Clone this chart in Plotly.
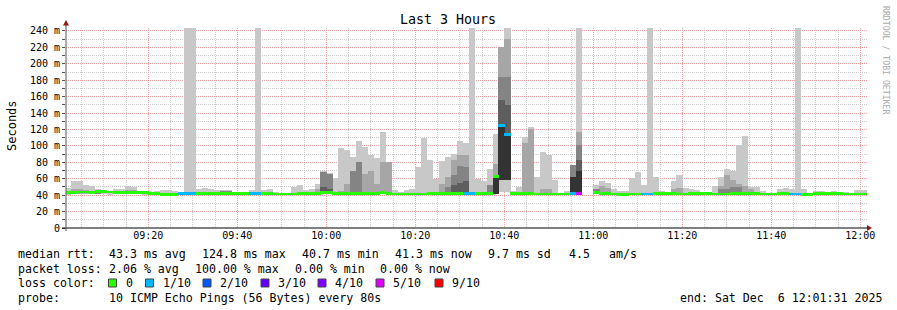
import plotly.graph_objects as go
import pandas as pd

# ---------------- data ----------------
T_START = pd.Timestamp("2025-12-06 09:01:23")   # start of first 80 s step
STEP_S = 80
X_RANGE = ["2025-12-06 09:01:31", "2025-12-06 12:01:31"]
X_TICKS = ["09:20", "09:40", "10:00", "10:20", "10:40", "11:00", "11:20", "11:40", "12:00"]
Y_TICKS = [0, 20, 40, 60, 80, 100, 120, 140, 160, 180, 200, 220, 240]
Y_TICK_LABELS = ["0", "20 m", "40 m", "60 m", "80 m", "100 m", "120 m", "140 m",
                 "160 m", "180 m", "200 m", "220 m", "240 m"]

# largest ping (ms) per step (None = no answer)
max_ms = [49, 57, 57, 52, 51, 47, 45, 45, 47, 47, 51, 50, 45, 45, 44, 45, 46, 46, 45, 44,
          245, 245, 48, 49, 47, 46, 46, 46, 43, 43, 44, 46, 245, 46, 48, 44, 43, 43, 50, 52,
          46, 48, 54, 70, 67, 61, 97, 95, 87, 106, 99, 89, 85, 117, 80, 46, 44, 46, 48, 74,
          110, 83, 60, 82, 86, 90, 106, 103, 245, 60, 57, 72, 115, 221, 245, 45, 50, 111, 123, 62,
          93, 89, 58, 43, 45, 77, 245, None, None, 52, 57, 55, 48, 45, 45, 61, 68, 52, 245, 62,
          45, 44, 57, 65, 49, 47, 46, 43, 43, 51, 62, 72, 70, 101, 112, 50, 50, 45, 43, 43,
          47, 49, 48, 245, 48, 43, 45, 45, 44, 45, 44, 44, 43, 46, 46]

# smallest ping (ms) per step
min_ms = [39.8, 41.5, 41.5, 41.8, 41.5, 41.0, 41.5, 40.5, 41.0, 41.5, 41.5, 41.5, 41.0, 40.5, 41.0,
          40.5, 39.8, 39.8, 40.2, 40.8, 40.8, 40.8, 40.8, 40.8, 40.8, 40.8, 40.8, 40.8, 40.5, 40.5,
          40.5, 40.8, 40.8, 40.5, 40.5, 40.5, 40.5, 40.5, 40.5, 40.5, 40.5, 40.5, 41.0, 41.5, 41.5,
          40.8, 41.0, 41.0, 41.0, 41.0, 40.8, 40.8, 41.0, 41.0, 41.0, 40.5, 40.5, 40.5, 40.5, 40.5,
          40.5, 40.5, 40.8, 40.8, 41.0, 41.0, 40.8, 40.8, 40.8, 40.8, 40.8, 41.0, 41.0, 44.0, 44.0,
          41.0, 41.0, 41.0, 41.0, 40.5, 40.5, 40.5, 40.5, 40.5, 40.5, 40.8, 41.0, None, None, 41.5,
          41.0, 40.8, 40.5, 40.2, 40.2, 40.5, 40.5, 40.5, 40.5, 40.8, 40.8, 40.8, 40.8, 40.5, 40.5,
          40.8, 40.8, 41.0, 41.0, 40.5, 40.5, 40.5, 40.8, 40.8, 40.8, 40.8, 40.8, 40.5, 40.5, 40.5,
          40.8, 40.8, 40.5, 40.5, 40.2, 40.2, 40.8, 41.0, 41.0, 41.0, 40.8, 40.5, 40.5, 40.3, 40.3]

# median rtt (ms) per step
med_ms = [42.8, 43.5, 43.8, 43.8, 43.5, 44.0, 44.0, 43.8, 43.5, 43.5, 43.6, 43.2, 43.0, 42.8, 42.0,
          41.6, 40.8, 40.7, 41.2, 41.8, 41.8, 41.8, 41.8, 41.8, 41.8, 41.9, 41.9, 41.9, 41.8, 41.6,
          41.6, 41.8, 41.8, 41.6, 41.6, 41.5, 41.5, 41.5, 41.5, 41.6, 41.6, 41.6, 42.5, 43.0, 43.0,
          41.8, 42.0, 42.5, 42.5, 42.5, 41.8, 41.8, 42.5, 42.8, 42.0, 41.5, 41.5, 41.5, 41.5, 41.5,
          41.5, 41.6, 41.8, 42.0, 42.5, 42.5, 41.8, 41.8, 41.8, 41.8, 41.8, 42.5, 62.5, 125.0, 114.0,
          42.0, 42.0, 42.0, 42.0, 41.5, 41.5, 41.5, 41.5, 41.5, 41.5, 41.8, 42.0, None, None, 43.5,
          42.5, 41.8, 41.5, 41.2, 41.2, 41.5, 41.5, 41.5, 41.5, 41.8, 41.8, 41.8, 41.8, 41.5, 41.5,
          41.8, 41.8, 42.0, 42.0, 41.5, 41.5, 41.5, 41.8, 41.8, 41.8, 41.8, 41.8, 41.5, 41.5, 41.5,
          41.8, 41.8, 41.5, 41.5, 41.2, 41.2, 41.8, 42.2, 42.2, 42.0, 41.8, 41.5, 41.5, 41.3, 41.3]

# lost pings out of 10 per step (steps not listed: 0)
loss_by_step = {19: 1, 20: 1, 21: 1, 31: 1, 32: 1, 67: 1, 68: 1, 73: 1, 74: 1, 85: 1,
                86: 5, 87: 10, 88: 10, 97: 1, 98: 1, 122: 1, 123: 1}

# inner smoke bands: top of band (ms) for steps where it shows
band2_top = {1: 47, 2: 47, 3: 46, 8: 45, 9: 45, 10: 46, 11: 46, 24: 44, 25: 44, 42: 48,
             46: 45, 47: 53, 50: 66, 51: 70, 52: 53, 53: 81, 54: 80, 63: 53, 64: 62.5,
             65: 83, 66: 89, 67: 89, 72: 78, 73: 221, 74: 230, 77: 104, 78: 120, 80: 47,
             81: 47, 86: 117, 90: 51, 91: 49, 102: 48, 103: 49, 110: 51, 111: 64.5, 112: 58,
             113: 54, 114: 51, 115: 47}
band3_top = {5: 44, 26: 45, 27: 45, 43: 68.6, 44: 66, 48: 70, 49: 80, 64: 50, 65: 64,
             66: 76, 67: 74, 71: 52, 73: 184, 74: 184, 85: 77, 86: 101, 89: 47, 110: 47,
             111: 48, 112: 50, 113: 50}
band4_top = {43: 50, 44: 48, 65: 52, 66: 55, 67: 57, 73: 156, 74: 150, 86: 83}
band5_top = {72: 62.5, 73: 125.5, 74: 113, 85: 62.5, 86: 69}
# bottom of inner bands where it is not the step minimum
core_bottom = {73: 58.5, 74: 58.5}

LOSS_COLORS = {0: "#26ff00", 1: "#00b8ff", 2: "#0059ff", 3: "#5e00ff",
               4: "#7e00ff", 5: "#dd00ff", 9: "#ff0000", 10: "#ff0000"}
LEGEND_LOSS = [("0", 0), ("1/10", 1), ("2/10", 2), ("3/10", 3), ("4/10", 4), ("5/10", 5), ("9/10", 9)]

# ---------------- geometry helpers (pixel -> paper) ----------------
W, H = 897, 310
PL, PR, PT, PB = 66, 30, 28, 82
PW, PH = W - PL - PR, H - PT - PB


def px(x):
    return (x - PL) / PW


def py(y):
    return (H - PB - y) / PH


N = len(max_ms)
centers = [T_START + pd.Timedelta(seconds=STEP_S * k + STEP_S / 2) for k in range(N)]
BAR_W = STEP_S * 1000 * 1.03   # slight overlap so adjacent steps merge

fig = go.Figure()


def add_band(tops, color, inner=True):
    xs, bs, hs = [], [], []
    for k, top in tops.items():
        lo = core_bottom.get(k, min_ms[k]) if inner else min_ms[k]
        if top is None or lo is None:
            continue
        xs.append(centers[k]); bs.append(lo); hs.append(top - lo)
    fig.add_trace(go.Bar(x=xs, y=hs, base=bs, width=BAR_W, marker=dict(color=color, line=dict(width=0)),
                         hoverinfo="skip", showlegend=False))


add_band(dict(enumerate(max_ms)), "#c8c8c8", inner=False)
add_band(band2_top, "#a6a6a6")
add_band(band3_top, "#848484")
add_band(band4_top, "#5e5e5e")
add_band(band5_top, "#333333")

# median line, coloured by loss
MED_HALF = 1.7
mx, mb, mh, mc = [], [], [], []
for k in range(N):
    if med_ms[k] is None:
        continue
    mx.append(centers[k]); mb.append(med_ms[k] - MED_HALF); mh.append(2 * MED_HALF)
    mc.append(LOSS_COLORS[loss_by_step.get(k, 0)])
fig.add_trace(go.Bar(x=mx, y=mh, base=mb, width=BAR_W, marker=dict(color=mc, line=dict(width=0)),
                     hoverinfo="skip", showlegend=False))

MONO = "DejaVu Sans Mono"
MAJOR_GRID = "#f0a0a0"
MINOR_GRID = "#cccccc"
fig.update_layout(
    width=W, height=H, margin=dict(l=PL, r=PR, t=PT, b=PB),
    paper_bgcolor="white", plot_bgcolor="white", barmode="overlay", bargap=0,
    font=dict(family=MONO, size=10, color="#000"),
    xaxis=dict(type="date", range=X_RANGE, tickmode="array",
               tickvals=["2025-12-06 " + t for t in X_TICKS], ticktext=X_TICKS,
               showgrid=True, gridcolor=MAJOR_GRID, griddash="1px,1px", gridwidth=1,
               minor=dict(dtick=300000, tick0="2025-12-06 09:00", showgrid=True,
                          gridcolor=MINOR_GRID, griddash="1px,1px", gridwidth=1),
               showline=False, zeroline=False, ticks="", tickfont=dict(family=MONO, size=10)),
    yaxis=dict(range=[0, 243.6], tickmode="array", tickvals=Y_TICKS, ticktext=Y_TICK_LABELS,
               showgrid=True, gridcolor=MAJOR_GRID, griddash="1px,1px", gridwidth=1,
               minor=dict(dtick=10, tick0=0, showgrid=True, gridcolor=MINOR_GRID,
                          griddash="1px,1px", gridwidth=1, ticks="outside", ticklen=3, tickcolor="#555"),
               ticks="outside", ticklen=3, tickcolor="#555",
               showline=False, zeroline=False, tickfont=dict(family=MONO, size=10)),
)

shapes = []
# axes
shapes.append(dict(type="line", xref="paper", yref="paper", x0=px(62), x1=px(868), y0=py(228), y1=py(228),
                   line=dict(color="#000", width=1)))
shapes.append(dict(type="line", xref="paper", yref="paper", x0=px(66), x1=px(66), y0=py(231), y1=py(24),
                   line=dict(color="#555", width=1)))
# arrows
shapes.append(dict(type="path", xref="paper", yref="paper",
                   path=f"M {px(872)} {py(228)} L {px(867)} {py(225)} L {px(867)} {py(231)} Z",
                   fillcolor="#8b1a1a", line=dict(width=0)))
shapes.append(dict(type="path", xref="paper", yref="paper",
                   path=f"M {px(66)} {py(20)} L {px(63)} {py(25.5)} L {px(69)} {py(25.5)} Z",
                   fillcolor="#8b1a1a", line=dict(width=0)))

ann = []


def text(x, y, s, size=11.6, anchor="left", color="#000", angle=0):
    ann.append(dict(xref="paper", yref="paper", x=px(x), y=py(y), text=s, showarrow=False,
                    xanchor=anchor, yanchor="middle", textangle=angle,
                    font=dict(family=MONO, size=size, color=color)))


text(448, 20, "Last 3 Hours", size=13.3, anchor="center")
text(12, 126, "Seconds", size=12, anchor="center", angle=-90)
text(886, 60, "RRDTOOL / TOBI OETIKER", size=8.2, anchor="center", color="#aaaaaa", angle=90)

L1, L2, L3, L4 = 254, 268.5, 283, 297.5
text(16, L1, "median rtt:")
text(107, L1, "43.3 ms avg")
text(200, L1, "124.8 ms max")
text(300, L1, "40.7 ms min")
text(393, L1, "41.3 ms now")
text(486, L1, "9.7 ms sd")
text(567, L1, "4.5")
text(607, L1, "am/s")

text(16, L2, "packet loss:")
text(107, L2, "2.06 % avg")
text(193, L2, "100.00 % max")
text(293, L2, "0.00 % min")
text(378, L2, "0.00 % now")

text(16, L3, "loss color:")
box_x = [108.5, 145.5, 203, 261, 318, 376, 435]
for (lab, lv), bx in zip(LEGEND_LOSS, box_x):
    shapes.append(dict(type="rect", xref="paper", yref="paper", x0=px(bx), x1=px(bx + 8),
                       y0=py(L3 - 4), y1=py(L3 + 4), fillcolor=LOSS_COLORS[lv],
                       line=dict(color="#444", width=1)))
    text(bx + 15, L3, lab)

text(16, L4, "probe:")
text(107, L4, "10 ICMP Echo Pings (56 Bytes) every 80s")
text(678, L4, "end: Sat Dec  6 12:01:31 2025")

fig.update_layout(shapes=shapes, annotations=ann)
fig.write_html("out.html")
